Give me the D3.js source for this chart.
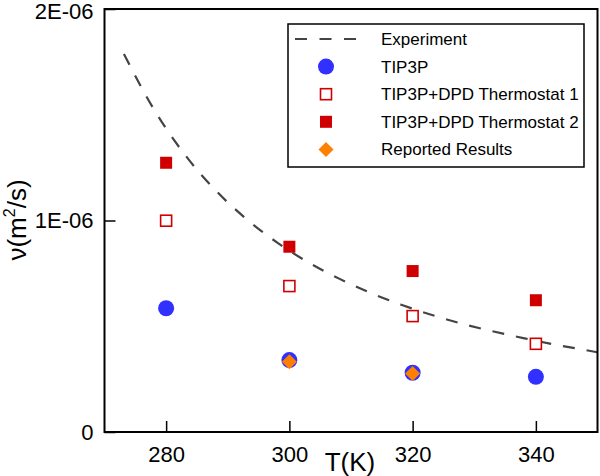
<!DOCTYPE html>
<html>
<head>
<meta charset="utf-8">
<script src="https://cdn.jsdelivr.net/npm/d3@7"></script>
<style>
  html, body { margin: 0; padding: 0; background: #fff; }
  svg { display: block; font-family: "Liberation Sans", Arial, sans-serif; }
</style>
</head>
<body>
<svg id="chart" width="600" height="476"></svg>
<script>
// ---- data ----
const temperatures = [280, 300, 320, 340];
const tip3p = [0.585e-6, 0.340e-6, 0.280e-6, 0.261e-6];
const thermostat1 = [0.999e-6, 0.690e-6, 0.548e-6, 0.417e-6];
const thermostat2 = [1.273e-6, 0.876e-6, 0.761e-6, 0.623e-6];
const reportedT = [300, 320];
const reported = [0.332e-6, 0.277e-6];
// experimental kinematic viscosity of water
const expT = [273.15, 278.15, 283.15, 288.15, 293.15, 298.15, 303.15, 308.15, 313.15, 318.15, 323.15, 328.15, 333.15, 338.15, 343.15, 348.15, 350];
const expNu = [1.787e-6, 1.519e-6, 1.307e-6, 1.139e-6, 1.004e-6, 0.893e-6, 0.801e-6, 0.724e-6, 0.658e-6, 0.602e-6, 0.553e-6, 0.511e-6, 0.475e-6, 0.443e-6, 0.413e-6, 0.387e-6, 0.377e-6];
const xTicks = [280, 300, 320, 340];
const yTicks = [0, 1e-6, 2e-6];
const yTickLabels = ["0", "1E-06", "2E-06"];
const legendLabels = ["Experiment", "TIP3P", "TIP3P+DPD Thermostat 1", "TIP3P+DPD Thermostat 2", "Reported Results"];

// ---- layout ----
const svg = d3.select("#chart");
const L = 104.5, R = 597.5, T = 9, B = 432;
const x = d3.scaleLinear().domain([270, 350]).range([L, R]);
const y = d3.scaleLinear().domain([0, 2e-6]).range([B, T]);

const blue = "#3030ff", red = "#d00000", orange = "#ff8000", dark = "#444";

// clip
svg.append("clipPath").attr("id", "clip").append("rect")
  .attr("x", L).attr("y", T).attr("width", R - L).attr("height", B - T);

// experiment line
const line = d3.line().x((d, i) => x(expT[i])).y(d => y(d)).curve(d3.curveMonotoneX);
svg.append("path").datum(expNu)
  .attr("clip-path", "url(#clip)")
  .attr("d", line)
  .attr("fill", "none").attr("stroke", dark)
  .attr("stroke-width", 2.2).attr("stroke-dasharray", "12,12");

// axes
const xAxis = d3.axisBottom(x).tickValues(xTicks).tickSizeInner(-11).tickSizeOuter(0).tickPadding(14).tickFormat(d3.format("d"));
const gx = svg.append("g").attr("transform", `translate(0,${B})`).call(xAxis);
gx.select(".domain").remove();
gx.selectAll(".tick line").attr("stroke", "#000").attr("stroke-width", 1.5);
gx.selectAll(".tick text").attr("font-size", 22).attr("fill", "#000")
  .attr("font-family", "Liberation Sans, Arial, sans-serif").attr("dy", "0.72em");

const yAxis = d3.axisLeft(y).tickValues(yTicks).tickSizeInner(-11).tickSizeOuter(0).tickPadding(11)
  .tickFormat((d, i) => yTickLabels[i]);
const gy = svg.append("g").attr("transform", `translate(${L},0)`).call(yAxis);
gy.select(".domain").remove();
gy.selectAll(".tick line").attr("stroke", "#000").attr("stroke-width", 1.5);
gy.selectAll(".tick text").attr("font-size", 22).attr("fill", "#000")
  .attr("font-family", "Liberation Sans, Arial, sans-serif")
  .attr("dy", (d, i) => i === 2 ? "0.45em" : "0.32em");

// frame
svg.append("rect").attr("x", L).attr("y", T).attr("width", R - L).attr("height", B - T)
  .attr("fill", "none").attr("stroke", "#000").attr("stroke-width", 2);

// axis titles
svg.append("text").attr("x", 350).attr("y", 471).attr("text-anchor", "middle")
  .attr("font-size", 26).attr("fill", "#000").text("T(K)");
const yt = svg.append("text").attr("transform", "translate(26,220) rotate(-90)")
  .attr("text-anchor", "middle").attr("font-size", 26).attr("fill", "#000");
yt.append("tspan").text("ν(m");
yt.append("tspan").attr("font-size", 16).attr("dy", -11).text("2");
yt.append("tspan").attr("dy", 11).text("/s)");

// markers
const plot = svg.append("g");
plot.selectAll("circle.tip").data(tip3p).join("circle")
  .attr("cx", (d, i) => x(temperatures[i])).attr("cy", d => y(d)).attr("r", 8).attr("fill", blue);
plot.selectAll("rect.t1").data(thermostat1).join("rect")
  .attr("x", (d, i) => x(temperatures[i]) - 5.5).attr("y", d => y(d) - 5.5)
  .attr("width", 11).attr("height", 11).attr("fill", "#fff").attr("stroke", red).attr("stroke-width", 1.6);
plot.selectAll("rect.t2").data(thermostat2).join("rect")
  .attr("x", (d, i) => x(temperatures[i]) - 6).attr("y", d => y(d) - 6)
  .attr("width", 12).attr("height", 12).attr("fill", red);
const diamond = d3.symbol().type(d3.symbolSquare).size(112);
plot.selectAll("path.rep").data(reported).join("path")
  .attr("d", diamond())
  .attr("transform", (d, i) => `translate(${x(reportedT[i])},${y(d)}) rotate(45)`)
  .attr("fill", orange);

// legend
const lg = svg.append("g");
lg.append("rect").attr("x", 288).attr("y", 24).attr("width", 296).attr("height", 143)
  .attr("fill", "#fff").attr("stroke", "#000").attr("stroke-width", 1.5);
const rowY = i => 39 + i * 27.6;
const symX = 326;
lg.append("line").attr("x1", 295).attr("x2", 357).attr("y1", rowY(0)).attr("y2", rowY(0))
  .attr("stroke", dark).attr("stroke-width", 2.2).attr("stroke-dasharray", "12,12.5");
lg.append("circle").attr("cx", symX).attr("cy", rowY(1)).attr("r", 8).attr("fill", blue);
lg.append("rect").attr("x", symX - 5.5).attr("y", rowY(2) - 5.5).attr("width", 11).attr("height", 11)
  .attr("fill", "#fff").attr("stroke", red).attr("stroke-width", 1.6);
lg.append("rect").attr("x", symX - 6).attr("y", rowY(3) - 6).attr("width", 12).attr("height", 12).attr("fill", red);
lg.append("path").attr("d", diamond()).attr("transform", `translate(${symX},${rowY(4)}) rotate(45)`).attr("fill", orange);
lg.selectAll("text.lab").data(legendLabels).join("text")
  .attr("x", 381).attr("y", (d, i) => rowY(i) + 6).attr("font-size", 17).attr("fill", "#000")
  .text(d => d);
</script>
</body>
</html>
